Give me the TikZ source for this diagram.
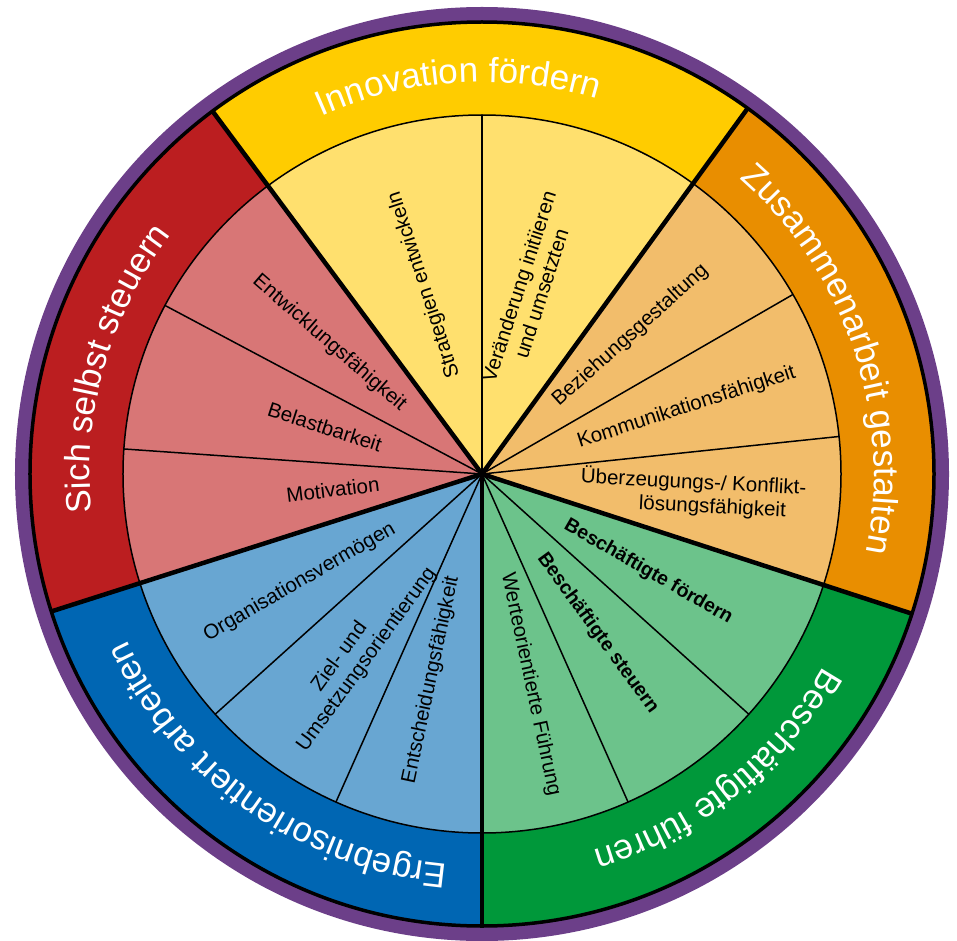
\documentclass[tikz,border=0pt]{standalone}
\usepackage{fontspec}
\setmainfont{Liberation Sans}
\usetikzlibrary{decorations.text}
\definecolor{purp}{RGB}{108,63,137}
\definecolor{yD}{RGB}{255,204,0}
\definecolor{yL}{RGB}{255,224,110}
\definecolor{oD}{RGB}{233,142,0}
\definecolor{oL}{RGB}{242,189,107}
\definecolor{gD}{RGB}{0,152,58}
\definecolor{gL}{RGB}{108,195,139}
\definecolor{bD}{RGB}{0,102,179}
\definecolor{bL}{RGB}{104,166,210}
\definecolor{rD}{RGB}{187,30,32}
\definecolor{rL}{RGB}{216,118,118}
\newcommand\lblfont{\fontsize{20.5}{23.5}\selectfont}
\newcommand\blblfont{\fontsize{19.5}{22}\selectfont\bfseries}
\newcommand\ttlfont{\fontsize{35}{40}\selectfont}
\newcommand\wsector[4]{\fill[#1] (0,0) -- (#2:#4) arc[start angle=#2, end angle=#3, radius=#4] -- cycle;}
\begin{document}
\begin{tikzpicture}[
  lbl/.style={font=\lblfont, align=center, inner sep=0pt, text=black},
  blbl/.style={font=\blblfont, align=center, inner sep=0pt, text=black},
  major/.style={line width=4.5pt},
  minor/.style={line width=1.5pt},
]
\useasboundingbox (-482pt,-466pt) rectangle (475pt,474pt);
% purple rim
\fill[purp] (0,0) circle (467pt);
% outer ring segments
\wsector{yD}{54}{126.6}{451pt}
\wsector{oD}{-18}{54}{451pt}
\wsector{gD}{-90}{-18}{451pt}
\wsector{bD}{-162.3}{-90}{451pt}
\wsector{rD}{126.6}{197.7}{451pt}
% inner sectors
\wsector{yL}{54}{126.6}{359pt}
\wsector{oL}{-18}{54}{359pt}
\wsector{gL}{-90}{-18}{359pt}
\wsector{bL}{-162.3}{-90}{359pt}
\wsector{rL}{126.6}{197.7}{359pt}
% circles
\draw[line width=3.5pt] (0,0) circle (452pt);
\draw[minor] (0,0) circle (359pt);
% minor dividers
\foreach \a in {90,30,6,-42,-66,-114,-138,152,176}
  \draw[minor] (0,0) -- (\a:359pt);
% major dividers
\foreach \a in {54,126.6,197.7,-90,-18}
  \draw[major] (0,0) -- (\a:451pt);
% titles along the ring
\path[decorate, decoration={text along path, text align=center, text color=white,
  text={|\ttlfont|Innovation fördern}}]
  (138.5:392pt) arc[start angle=138.5, end angle=48.5, radius=392pt];
\path[decorate, decoration={text along path, text align=center, text color=white,
  text={|\ttlfont|Zusammenarbeit gestalten}}]
  (63.7:392pt) arc[start angle=63.7, end angle=-26.3, radius=392pt];
\path[decorate, decoration={text along path, text align=center, text color=white,
  text={|\ttlfont|Beschäftigte führen}}]
  (-6.5:392pt) arc[start angle=-6.5, end angle=-96.5, radius=392pt];
\path[decorate, decoration={text along path, text align=center, text color=white,
  text={|\ttlfont|Ergebnisorientiert arbeiten}}]
  (-80:392pt) arc[start angle=-80, end angle=-170, radius=392pt];
\path[decorate, decoration={text along path, text align=center, text color=white,
  text={|\ttlfont|Sich selbst steuern}}]
  (209:392pt) arc[start angle=209, end angle=119, radius=392pt];
% inner labels
\node[lbl, rotate=108] (l1) at (107:198pt) {Strategien entwickeln};
\node[lbl, rotate=72] (l2) at (75.4:190pt) {Veränderung initiieren\\und umsetzten};
\node[lbl, rotate=42] (l3) at (43:203pt) {Beziehungsgestaltung};
\node[lbl, rotate=18] (l4) at (18:215pt) {Kommunikationsfähigkeit};
\node[lbl, rotate=-3] (l5) at (-5.4:212pt) {Überzeugungs-/ Konflikt-\\\hspace*{40pt}lösungsfähigkeit};
\node[blbl, rotate=-30] (l6) at (-30.5:193pt) {Beschäftigte fördern};
\node[blbl, rotate=-54] (l7) at (-54:197pt) {Beschäftigte steuern};
\node[lbl, rotate=-78] (l8) at (-77:216pt) {Werteorientierte Führung};
\node[lbl, rotate=78] (l9) at (-103.9:212pt) {Entscheidungsfähigkeit};
\node[lbl, rotate=54] (l10) at (-124.9:218pt) {Ziel- und\hspace*{27pt}\\Umsetzungsorientierung};
\node[lbl, rotate=30] (l11) at (-149.3:212pt) {Organisationsvermögen};
\node[lbl, rotate=7] (l12) at (186:150pt) {Motivation};
\node[lbl, rotate=-18] (l13) at (163.3:164pt) {Belastbarkeit};
\node[lbl, rotate=-41] (l14) at (139.4:201pt) {Entwicklungsfähigkeit};
\end{tikzpicture}
\end{document}
